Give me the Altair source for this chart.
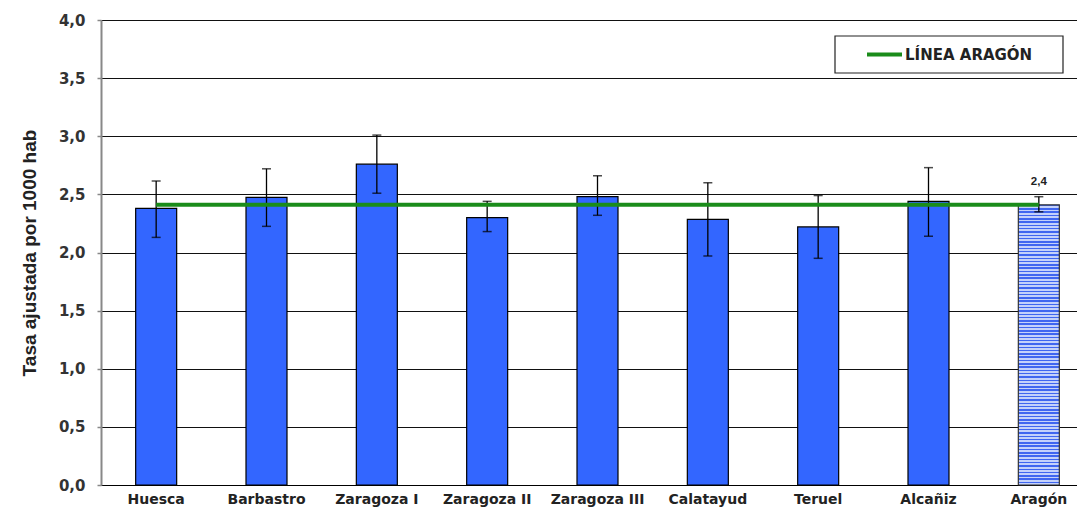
import altair as alt
import pandas as pd

regions = ["Huesca", "Barbastro", "Zaragoza I", "Zaragoza II", "Zaragoza III",
           "Calatayud", "Teruel", "Alcañiz", "Aragón"]
rate = [2.38, 2.475, 2.76, 2.30, 2.48, 2.285, 2.22, 2.44, 2.41]
lower = [2.13, 2.225, 2.51, 2.18, 2.32, 1.97, 1.95, 2.14, 2.35]
upper = [2.615, 2.72, 3.01, 2.44, 2.66, 2.60, 2.49, 2.73, 2.48]
aragon_line = 2.41
y_ticks = [0, 0.5, 1, 1.5, 2, 2.5, 3, 3.5, 4]
legend_label = "LÍNEA ARAGÓN"
y_title = "Tasa ajustada por 1000 hab"

df = pd.DataFrame({"region": regions, "rate": rate, "lower": lower, "upper": upper})
df["line"] = aragon_line

FONT = "Liberation Sans"
WFONT = "DejaVu Sans"
BLUE = "#3366ff"
GREEN = "#1a8c1a"

# horizontal stripe fill for the Aragón bar
stops = []
n = 85
for i in range(n):
    a = i / n
    b = (i + 0.45) / n
    c = (i + 1) / n
    stops += [alt.GradientStop(offset=a, color="#3f66f0"),
              alt.GradientStop(offset=b, color="#3f66f0"),
              alt.GradientStop(offset=b, color="#c3d1fb"),
              alt.GradientStop(offset=c, color="#c3d1fb")]
stripe = alt.LinearGradient(gradient="linear", stops=stops, x1=0, x2=0, y1=0, y2=1)

PLOT_W = 976
X_RANGE = 993

x_scale = alt.Scale(paddingInner=0, paddingOuter=0, range=[0, X_RANGE])
x_enc = alt.X("region:N", sort=regions, title=None, scale=x_scale,
              axis=alt.Axis(labelAngle=0, ticks=False, labelPadding=7,
                            labelFont=WFONT, labelFontSize=14, labelFontWeight="bold",
                            labelColor="#222", domainColor="#000", domainWidth=1, grid=False))
y_scale = alt.Scale(domain=[0, 4], nice=False, zero=True)

def xe():
    return alt.X("region:N", sort=regions, scale=x_scale)

base = alt.Chart(df)

bars = base.transform_filter(alt.datum.region != "Aragón").mark_bar(
    size=41, color=BLUE, stroke="#000", strokeWidth=1.2).encode(
    x=x_enc,
    y=alt.Y("rate:Q", scale=y_scale, title=y_title,
            axis=alt.Axis(values=y_ticks,
                          labelExpr="replace(format(datum.value, '.1f'), '.', ',')",
                          labelFont=WFONT, labelFontSize=15, labelFontWeight="bold",
                          labelColor="#333", labelPadding=12,
                          tickSize=4, tickColor="#888", tickWidth=1.5,
                          domainColor="#888", domainWidth=2,
                          grid=True, gridColor="#111", gridWidth=1,
                          titleFont=FONT, titleFontSize=19, titleFontWeight="bold",
                          titleColor="#222", titlePadding=19)))

bar_ar = base.transform_filter(alt.datum.region == "Aragón").mark_bar(
    size=41, fill=stripe, stroke="#333", strokeWidth=1.2).encode(
    x=xe(), y=alt.Y("rate:Q", scale=y_scale))

err = base.mark_rule(color="#000", strokeWidth=1.3).encode(
    x=xe(), y=alt.Y("lower:Q", scale=y_scale), y2="upper:Q")
cap_lo = base.mark_tick(color="#000", size=9, thickness=1.5).encode(
    x=xe(), y=alt.Y("lower:Q", scale=y_scale))
cap_hi = base.mark_tick(color="#000", size=9, thickness=1.5).encode(
    x=xe(), y=alt.Y("upper:Q", scale=y_scale))

line = base.mark_line(color=GREEN, strokeWidth=4).encode(
    x=xe(), y=alt.Y("line:Q", scale=y_scale))

label = base.transform_filter(alt.datum.region == "Aragón").transform_calculate(
    lab="replace(format(datum.rate, '.1f'), '.', ',')").mark_text(
    font=FONT, fontSize=11.5, fontWeight="bold", color="#222", dy=-15, baseline="middle").encode(
    x=xe(), y=alt.Y("upper:Q", scale=y_scale), text="lab:N")

one = alt.Data(values=[{"t": legend_label}])
leg_box = alt.Chart(one).mark_rect(fill="white", stroke="#222", strokeWidth=1.2).encode(
    x=alt.value(734), x2=alt.value(962), y=alt.value(16), y2=alt.value(53))
leg_line = alt.Chart(one).mark_rule(color=GREEN, strokeWidth=4).encode(
    x=alt.value(766), x2=alt.value(801), y=alt.value(34.5))
leg_text = alt.Chart(one).mark_text(font=WFONT, fontSize=15, fontWeight="bold",
                                    color="#222", align="left", baseline="middle").encode(
    x=alt.value(804), y=alt.value(34.5), text="t:N")

chart = alt.layer(bars, bar_ar, err, cap_lo, cap_hi, line, label,
                  leg_box, leg_line, leg_text).properties(
    width=PLOT_W, height=465,
    autosize=alt.AutoSizeParams(type="none"),
    padding={"left": 93, "top": 12, "right": 0, "bottom": 23},
).configure_view(stroke="#888", strokeWidth=1.5).configure(background="white")

chart.save("out.html", embed_options={"renderer": "svg", "actions": False})
